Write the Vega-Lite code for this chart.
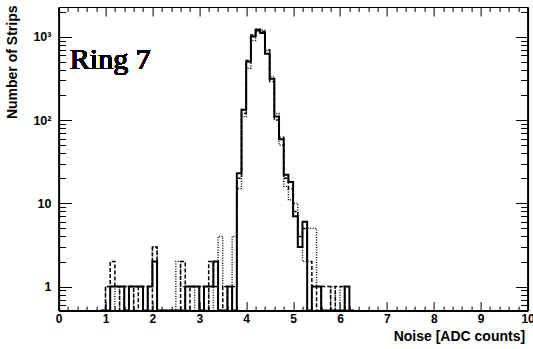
{
  "$schema": "https://vega.github.io/schema/vega-lite/v6.json",
  "width": 469,
  "height": 303.6,
  "autosize": "none",
  "padding": {"left": 58.6, "top": 7, "right": 5.4, "bottom": 38.4},
  "background": "white",
  "config": {
    "view": {"stroke": null},
    "axis": {"grid": false, "labelFont": "Liberation Sans", "labelFontWeight": "bold", "labelColor": "black", "labelFontSize": 12, "titleFont": "Liberation Sans", "titleFontWeight": "bold", "titleColor": "black", "tickColor": "black", "domainColor": "black", "labelFlush": false, "labelOverlap": false, "labelBound": false, "tickWidth": 1}
  },
  "data": {"values": [
    {"hist":"solid","noise":0.9,"strips":0},{"hist":"solid","noise":1.0,"strips":0},{"hist":"solid","noise":1.1,"strips":1},{"hist":"solid","noise":1.2,"strips":1},{"hist":"solid","noise":1.3,"strips":1},{"hist":"solid","noise":1.4,"strips":0},{"hist":"solid","noise":1.5,"strips":1},{"hist":"solid","noise":1.6,"strips":1},{"hist":"solid","noise":1.7,"strips":1},{"hist":"solid","noise":1.8,"strips":0},{"hist":"solid","noise":1.9,"strips":1},{"hist":"solid","noise":2.0,"strips":2},{"hist":"solid","noise":2.1,"strips":0},{"hist":"solid","noise":2.2,"strips":0},{"hist":"solid","noise":2.3,"strips":0},{"hist":"solid","noise":2.4,"strips":0},{"hist":"solid","noise":2.5,"strips":0},{"hist":"solid","noise":2.6,"strips":0},{"hist":"solid","noise":2.7,"strips":1},{"hist":"solid","noise":2.8,"strips":1},{"hist":"solid","noise":2.9,"strips":1},{"hist":"solid","noise":3.0,"strips":0},{"hist":"solid","noise":3.1,"strips":1},{"hist":"solid","noise":3.2,"strips":1},{"hist":"solid","noise":3.3,"strips":2},{"hist":"solid","noise":3.4,"strips":0},{"hist":"solid","noise":3.5,"strips":0},{"hist":"solid","noise":3.6,"strips":1},{"hist":"solid","noise":3.7,"strips":0},{"hist":"solid","noise":3.8,"strips":23},{"hist":"solid","noise":3.9,"strips":133},{"hist":"solid","noise":4.0,"strips":500},{"hist":"solid","noise":4.1,"strips":1010},{"hist":"solid","noise":4.2,"strips":1220},{"hist":"solid","noise":4.3,"strips":1110},{"hist":"solid","noise":4.4,"strips":626},{"hist":"solid","noise":4.5,"strips":313},{"hist":"solid","noise":4.6,"strips":110},{"hist":"solid","noise":4.7,"strips":59},{"hist":"solid","noise":4.8,"strips":22},{"hist":"solid","noise":4.9,"strips":18},{"hist":"solid","noise":5.0,"strips":7},{"hist":"solid","noise":5.1,"strips":3},{"hist":"solid","noise":5.2,"strips":6},{"hist":"solid","noise":5.3,"strips":0},{"hist":"solid","noise":5.4,"strips":1},{"hist":"solid","noise":5.5,"strips":1},{"hist":"solid","noise":5.6,"strips":0},{"hist":"solid","noise":5.7,"strips":0},{"hist":"solid","noise":5.8,"strips":0},{"hist":"solid","noise":5.9,"strips":0},{"hist":"solid","noise":6.0,"strips":0},{"hist":"solid","noise":6.1,"strips":1},{"hist":"solid","noise":6.2,"strips":0},{"hist":"solid","noise":6.3,"strips":0},
    {"hist":"dashed","noise":0.9,"strips":0},{"hist":"dashed","noise":1.0,"strips":1},{"hist":"dashed","noise":1.1,"strips":2},{"hist":"dashed","noise":1.2,"strips":1},{"hist":"dashed","noise":1.3,"strips":0},{"hist":"dashed","noise":1.4,"strips":1},{"hist":"dashed","noise":1.5,"strips":1},{"hist":"dashed","noise":1.6,"strips":0},{"hist":"dashed","noise":1.7,"strips":1},{"hist":"dashed","noise":1.8,"strips":1},{"hist":"dashed","noise":1.9,"strips":0},{"hist":"dashed","noise":2.0,"strips":3},{"hist":"dashed","noise":2.1,"strips":0},{"hist":"dashed","noise":2.2,"strips":0},{"hist":"dashed","noise":2.3,"strips":0},{"hist":"dashed","noise":2.4,"strips":0},{"hist":"dashed","noise":2.5,"strips":0},{"hist":"dashed","noise":2.6,"strips":2},{"hist":"dashed","noise":2.7,"strips":0},{"hist":"dashed","noise":2.8,"strips":1},{"hist":"dashed","noise":2.9,"strips":1},{"hist":"dashed","noise":3.0,"strips":1},{"hist":"dashed","noise":3.1,"strips":0},{"hist":"dashed","noise":3.2,"strips":2},{"hist":"dashed","noise":3.3,"strips":1},{"hist":"dashed","noise":3.4,"strips":0},{"hist":"dashed","noise":3.5,"strips":1},{"hist":"dashed","noise":3.6,"strips":0},{"hist":"dashed","noise":3.7,"strips":1},{"hist":"dashed","noise":3.8,"strips":20},{"hist":"dashed","noise":3.9,"strips":120},{"hist":"dashed","noise":4.0,"strips":520},{"hist":"dashed","noise":4.1,"strips":1050},{"hist":"dashed","noise":4.2,"strips":1180},{"hist":"dashed","noise":4.3,"strips":1150},{"hist":"dashed","noise":4.4,"strips":700},{"hist":"dashed","noise":4.5,"strips":290},{"hist":"dashed","noise":4.6,"strips":100},{"hist":"dashed","noise":4.7,"strips":62},{"hist":"dashed","noise":4.8,"strips":20},{"hist":"dashed","noise":4.9,"strips":15},{"hist":"dashed","noise":5.0,"strips":8},{"hist":"dashed","noise":5.1,"strips":4},{"hist":"dashed","noise":5.2,"strips":5},{"hist":"dashed","noise":5.3,"strips":2},{"hist":"dashed","noise":5.4,"strips":1},{"hist":"dashed","noise":5.5,"strips":0},{"hist":"dashed","noise":5.6,"strips":1},{"hist":"dashed","noise":5.7,"strips":1},{"hist":"dashed","noise":5.8,"strips":0},{"hist":"dashed","noise":5.9,"strips":1},{"hist":"dashed","noise":6.0,"strips":1},{"hist":"dashed","noise":6.1,"strips":0},{"hist":"dashed","noise":6.2,"strips":0},{"hist":"dashed","noise":6.3,"strips":0},
    {"hist":"dotted","noise":0.9,"strips":0},{"hist":"dotted","noise":1.0,"strips":1},{"hist":"dotted","noise":1.1,"strips":1},{"hist":"dotted","noise":1.2,"strips":0},{"hist":"dotted","noise":1.3,"strips":1},{"hist":"dotted","noise":1.4,"strips":1},{"hist":"dotted","noise":1.5,"strips":0},{"hist":"dotted","noise":1.6,"strips":1},{"hist":"dotted","noise":1.7,"strips":1},{"hist":"dotted","noise":1.8,"strips":0},{"hist":"dotted","noise":1.9,"strips":1},{"hist":"dotted","noise":2.0,"strips":3},{"hist":"dotted","noise":2.1,"strips":0},{"hist":"dotted","noise":2.2,"strips":0},{"hist":"dotted","noise":2.3,"strips":0},{"hist":"dotted","noise":2.4,"strips":0},{"hist":"dotted","noise":2.5,"strips":2},{"hist":"dotted","noise":2.6,"strips":1},{"hist":"dotted","noise":2.7,"strips":1},{"hist":"dotted","noise":2.8,"strips":1},{"hist":"dotted","noise":2.9,"strips":0},{"hist":"dotted","noise":3.0,"strips":1},{"hist":"dotted","noise":3.1,"strips":1},{"hist":"dotted","noise":3.2,"strips":0},{"hist":"dotted","noise":3.3,"strips":1},{"hist":"dotted","noise":3.4,"strips":4},{"hist":"dotted","noise":3.5,"strips":1},{"hist":"dotted","noise":3.6,"strips":0},{"hist":"dotted","noise":3.7,"strips":4},{"hist":"dotted","noise":3.8,"strips":15},{"hist":"dotted","noise":3.9,"strips":110},{"hist":"dotted","noise":4.0,"strips":420},{"hist":"dotted","noise":4.1,"strips":900},{"hist":"dotted","noise":4.2,"strips":1150},{"hist":"dotted","noise":4.3,"strips":1200},{"hist":"dotted","noise":4.4,"strips":680},{"hist":"dotted","noise":4.5,"strips":330},{"hist":"dotted","noise":4.6,"strips":120},{"hist":"dotted","noise":4.7,"strips":50},{"hist":"dotted","noise":4.8,"strips":16},{"hist":"dotted","noise":4.9,"strips":11},{"hist":"dotted","noise":5.0,"strips":10},{"hist":"dotted","noise":5.1,"strips":3},{"hist":"dotted","noise":5.2,"strips":2},{"hist":"dotted","noise":5.3,"strips":5},{"hist":"dotted","noise":5.4,"strips":5},{"hist":"dotted","noise":5.5,"strips":1},{"hist":"dotted","noise":5.6,"strips":0},{"hist":"dotted","noise":5.7,"strips":0},{"hist":"dotted","noise":5.8,"strips":1},{"hist":"dotted","noise":5.9,"strips":0},{"hist":"dotted","noise":6.0,"strips":1},{"hist":"dotted","noise":6.1,"strips":0},{"hist":"dotted","noise":6.2,"strips":0},{"hist":"dotted","noise":6.3,"strips":0}
  ]},
  "layer": [
    {
      "transform": [{"filter": "datum.hist == 'dotted'"}],
      "mark": {"type": "line", "interpolate": "step-after", "color": "black", "strokeWidth": 1.4, "strokeDash": [1, 1.5], "invalid": "show"},
      "encoding": {
        "x": {"field": "noise", "type": "quantitative", "scale": {"domain": [0, 10], "nice": false, "zero": false},
          "axis": {"orient": "top", "values": [0,1,2,3,4,5,6,7,8,9,10], "labels": false, "tickSize": -9, "domainWidth": 1.2, "title": null}},
        "y": {"field": "strips", "type": "quantitative", "scale": {"type": "log", "domain": [0.515, 2280], "nice": false, "clamp": true},
          "axis": {"orient": "right", "values": [1,10,100,1000], "labels": false, "tickSize": -12, "domainWidth": 2, "title": null}}
      }
    },
    {
      "transform": [{"filter": "datum.hist == 'dashed'"}],
      "mark": {"type": "line", "interpolate": "step-after", "color": "black", "strokeWidth": 1.5, "strokeDash": [4, 2], "invalid": "show"},
      "encoding": {
        "x": {"field": "noise", "type": "quantitative",
          "axis": {"orient": "bottom", "values": [0.2,0.4,0.6,0.8,1.2,1.4,1.6,1.8,2.2,2.4,2.6,2.8,3.2,3.4,3.6,3.8,4.2,4.4,4.6,4.8,5.2,5.4,5.6,5.8,6.2,6.4,6.6,6.8,7.2,7.4,7.6,7.8,8.2,8.4,8.6,8.8,9.2,9.4,9.6,9.8], "labels": false, "domain": false, "tickSize": -4.5, "title": null}},
        "y": {"field": "strips", "type": "quantitative",
          "axis": {"orient": "left", "values": [0.6,0.7,0.8,0.9,2,3,4,5,6,7,8,9,20,30,40,50,60,70,80,90,200,300,400,500,600,700,800,900,2000], "labels": false, "domain": false, "tickSize": -7, "title": null}}
      }
    },
    {
      "transform": [{"filter": "datum.hist == 'solid'"}],
      "mark": {"type": "line", "interpolate": "step-after", "color": "black", "strokeWidth": 2, "invalid": "show"},
      "encoding": {
        "x": {"field": "noise", "type": "quantitative",
          "axis": {"orient": "bottom", "values": [0,1,2,3,4,5,6,7,8,9,10], "tickSize": -9, "labelPadding": 12, "domainWidth": 2,
            "title": "Noise [ADC counts]", "titleFontSize": 14, "titleX": 466, "titleY": 30, "titleAlign": "right", "titleBaseline": "alphabetic"}},
        "y": {"field": "strips", "type": "quantitative",
          "axis": {"orient": "left", "values": [1,10,100,1000], "labelExpr": "datum.value == 1 ? '1' : datum.value == 10 ? '10' : datum.value == 100 ? '10²' : '10³'", "tickSize": -13, "labelPadding": 20.6, "labelFontSize": 12.5, "domainWidth": 2,
            "title": "Number of Strips", "titleFontSize": 14, "titleX": -42.5, "titleY": -2, "titleAngle": -90, "titleAlign": "right", "titleBaseline": "alphabetic"}}
      }
    },
    {
      "mark": {"type": "text", "font": "Times New Roman, Liberation Serif, serif", "fontSize": 30, "fontWeight": "normal", "align": "left", "baseline": "middle", "fill": "black", "stroke": null, "strokeWidth": 0},
      "encoding": {
        "text": {"datum": "Ring 7"},
        "x": {"datum": 0.24, "type": "quantitative",
          "axis": {"orient": "top", "values": [0.2,0.4,0.6,0.8,1.2,1.4,1.6,1.8,2.2,2.4,2.6,2.8,3.2,3.4,3.6,3.8,4.2,4.4,4.6,4.8,5.2,5.4,5.6,5.8,6.2,6.4,6.6,6.8,7.2,7.4,7.6,7.8,8.2,8.4,8.6,8.8,9.2,9.4,9.6,9.8], "labels": false, "domain": false, "tickSize": -4.5, "title": null}},
        "y": {"datum": 520, "type": "quantitative",
          "axis": {"orient": "right", "values": [0.6,0.7,0.8,0.9,2,3,4,5,6,7,8,9,20,30,40,50,60,70,80,90,200,300,400,500,600,700,800,900,2000], "labels": false, "domain": false, "tickSize": -7, "title": null}}
      }
    }
  ],
  "resolve": {"axis": {"x": "independent", "y": "independent"}}
}
